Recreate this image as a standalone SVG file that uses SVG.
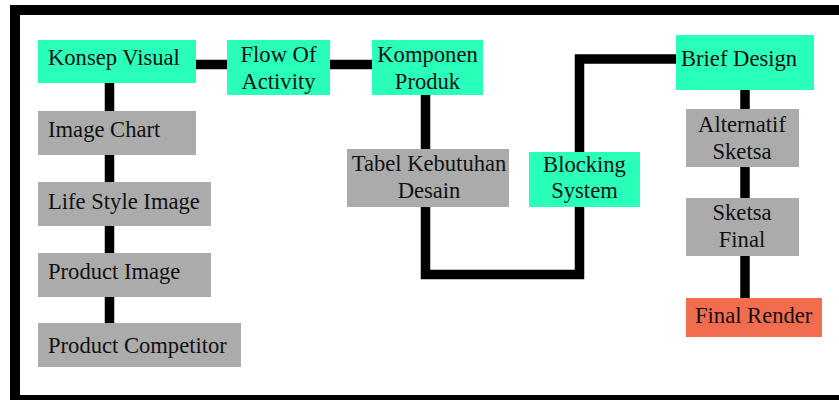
<svg xmlns="http://www.w3.org/2000/svg" width="839" height="400" viewBox="0 0 839 400">
<style>
.g{fill:#2AFFB9}
.k{fill:#ABABAB}
.o{fill:#F26D50}
text{font-family:"Liberation Serif","Times New Roman",serif;font-size:22.6px;fill:#111}
.c{text-anchor:middle}
.ln{fill:none;stroke:#000;stroke-width:9.5}
</style>
<rect x="0" y="0" width="839" height="400" fill="#fff"/>
<g id="frame">
<rect x="10" y="5" width="829" height="10" fill="#000"/>
<rect x="10" y="5" width="10" height="395" fill="#000"/>
<rect x="10" y="395" width="829" height="5" fill="#000"/>
</g>
<g id="connectors">
<path class="ln" d="M196 64.5H227"/>
<path class="ln" d="M330 64.5H372"/>
<path class="ln" d="M109.5 83V323"/>
<path class="ln" d="M425.5 95V274.5H579.5V59H676"/>
<path class="ln" d="M745 90V298"/>
</g>
<g id="konsep-visual"><rect class="g" x="38" y="40" width="158" height="43"/><text x="48" y="65">Konsep Visual</text></g>
<g id="flow-of-activity"><rect class="g" x="227" y="40" width="103" height="55"/><text class="c" x="278.5" y="62">Flow Of</text><text class="c" x="278.5" y="89">Activity</text></g>
<g id="komponen-produk"><rect class="g" x="372" y="40" width="111" height="55"/><text class="c" x="427.5" y="62">Komponen</text><text class="c" x="427.5" y="89">Produk</text></g>
<g id="image-chart"><rect class="k" x="38" y="111" width="158" height="44"/><text x="48" y="137">Image Chart</text></g>
<g id="life-style-image"><rect class="k" x="38" y="182" width="173" height="44"/><text x="48" y="209">Life Style Image</text></g>
<g id="product-image"><rect class="k" x="38" y="253" width="173" height="44"/><text x="48" y="279">Product Image</text></g>
<g id="product-competitor"><rect class="k" x="38" y="323" width="203" height="44"/><text x="48" y="353">Product Competitor</text></g>
<g id="tabel-kebutuhan-desain"><rect class="k" x="347" y="149" width="162" height="58"/><text class="c" x="429" y="171">Tabel Kebutuhan</text><text class="c" x="429" y="198">Desain</text></g>
<g id="blocking-system"><rect class="g" x="529" y="152" width="111" height="55"/><text class="c" x="584.5" y="172">Blocking</text><text class="c" x="584.5" y="198">System</text></g>
<g id="brief-design"><rect class="g" x="676" y="35" width="138" height="55"/><text x="681" y="66">Brief Design</text></g>
<g id="alternatif-sketsa"><rect class="k" x="686" y="109" width="113" height="58"/><text class="c" x="742" y="132">Alternatif</text><text class="c" x="742" y="159">Sketsa</text></g>
<g id="sketsa-final"><rect class="k" x="686" y="198" width="113" height="58"/><text class="c" x="742" y="220">Sketsa</text><text class="c" x="742" y="247">Final</text></g>
<g id="final-render"><rect class="o" x="686" y="298" width="136" height="39"/><text x="695" y="323">Final Render</text></g>
</svg>
